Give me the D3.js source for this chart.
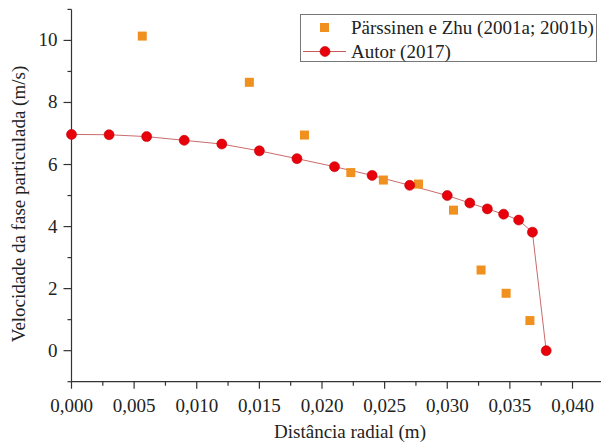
<!DOCTYPE html>
<html>
<head>
<meta charset="utf-8">
<script src="https://cdn.jsdelivr.net/npm/d3@7"></script>
<style>
  body { margin: 0; background: #fff; }
</style>
</head>
<body>
<div id="chart"></div>
<script>
const width = 601
const height = 445

// Pärssinen e Zhu (2001a; 2001b)
const refX = [0.00565, 0.0142, 0.0186, 0.0223, 0.0249, 0.0277, 0.0305, 0.0327, 0.0347, 0.0366]
const refY = [10.14, 8.65, 6.95, 5.74, 5.5, 5.37, 4.53, 2.6, 1.85, 0.97]

// Autor (2017)
const autorX = [0, 0.003, 0.006, 0.009, 0.012, 0.015, 0.018, 0.021, 0.024, 0.027, 0.03,
  0.0318, 0.0332, 0.0345, 0.0357, 0.0368, 0.0379]
const autorY = [6.97, 6.96, 6.9, 6.78, 6.66, 6.44, 6.19, 5.93, 5.65, 5.33, 5.0,
  4.76, 4.57, 4.4, 4.21, 3.82, 0]

const xTicks = [0, 0.005, 0.01, 0.015, 0.02, 0.025, 0.03, 0.035, 0.04]
const yTicks = [0, 2, 4, 6, 8, 10]

const svg = d3
  .select('#chart')
  .append('svg')
  .attr('width', width)
  .attr('height', height)
  .attr('font-family', '"Liberation Serif", "Times New Roman", serif')
  .style('display', 'block')

// x: 0 -> 71.5px, 0.040 -> 572.5px
const x = d3.scaleLinear().domain([0, 0.04]).range([71.5, 572.5])
const y = d3.scaleLinear().domain([-1, 11]).range([381.7, 9.4])

const fmt = d => d3.format('.3f')(d).replace('.', ',')

// minor ticks
const xMinor = d3.range(0.0025, 0.043, 0.005)
const yMinor = d3.range(-1, 11.01, 2)

const axisColor = '#333'

// x axis
const xAxis = svg.append('g').attr('transform', `translate(0,${y(-1)})`)
xAxis.append('line')
  .attr('x1', x(0)).attr('x2', 601)
  .attr('stroke', axisColor).attr('stroke-width', 1.2)
xAxis.selectAll('.maj').data(xTicks).enter().append('line')
  .attr('x1', d => x(d)).attr('x2', d => x(d))
  .attr('y1', 0).attr('y2', 7)
  .attr('stroke', axisColor).attr('stroke-width', 1.2)
xAxis.selectAll('.min').data(xMinor).enter().append('line')
  .attr('x1', d => x(d)).attr('x2', d => x(d))
  .attr('y1', 0).attr('y2', 4)
  .attr('stroke', axisColor).attr('stroke-width', 1.2)
xAxis.selectAll('text').data(xTicks).enter().append('text')
  .attr('x', d => x(d)).attr('y', 30)
  .attr('text-anchor', 'middle')
  .attr('font-size', 19)
  .attr('fill', '#222')
  .text(fmt)

// y axis
const yAxis = svg.append('g').attr('transform', `translate(${x(0)},0)`)
yAxis.append('line')
  .attr('y1', y(-1)).attr('y2', y(11))
  .attr('stroke', axisColor).attr('stroke-width', 1.2)
yAxis.selectAll('.maj').data(yTicks).enter().append('line')
  .attr('y1', d => y(d)).attr('y2', d => y(d))
  .attr('x1', 0).attr('x2', -8)
  .attr('stroke', axisColor).attr('stroke-width', 1.2)
yAxis.selectAll('.min').data(yMinor).enter().append('line')
  .attr('y1', d => y(d)).attr('y2', d => y(d))
  .attr('x1', 0).attr('x2', -4)
  .attr('stroke', axisColor).attr('stroke-width', 1.2)
yAxis.selectAll('text').data(yTicks).enter().append('text')
  .attr('x', -14).attr('y', d => y(d) + 6)
  .attr('text-anchor', 'end')
  .attr('font-size', 19)
  .attr('fill', '#222')
  .text(d => d)

// axis titles
svg.append('text')
  .attr('x', 350).attr('y', 438)
  .attr('text-anchor', 'middle')
  .attr('font-size', 19)
  .attr('fill', '#222')
  .text('Distância radial (m)')

svg.append('text')
  .attr('transform', 'translate(25,204) rotate(-90)')
  .attr('text-anchor', 'middle')
  .attr('font-size', 19)
  .attr('fill', '#222')
  .text('Velocidade da fase particulada (m/s)')

// Autor line + points
const autor = autorX.map((d, i) => ({ x: d, y: autorY[i] }))
const ref = refX.map((d, i) => ({ x: d, y: refY[i] }))

const line = d3.line().x(d => x(d.x)).y(d => y(d.y))

svg.append('path')
  .datum(autor)
  .attr('d', line)
  .attr('fill', 'none')
  .attr('stroke', '#c45a5a')
  .attr('stroke-width', 0.9)

// squares
const sq = 9
svg.selectAll('.sq').data(ref).enter().append('rect')
  .attr('x', d => x(d.x) - sq / 2)
  .attr('y', d => y(d.y) - sq / 2)
  .attr('width', sq).attr('height', sq)
  .attr('fill', '#f0901e')

svg.selectAll('.pt').data(autor).enter().append('circle')
  .attr('cx', d => x(d.x))
  .attr('cy', d => y(d.y))
  .attr('r', 5)
  .attr('fill', '#e8000b')
  .attr('stroke', '#c00008')
  .attr('stroke-width', 0.6)

// legend
const lg = svg.append('g')
lg.append('rect')
  .attr('x', 300.5).attr('y', 14.5)
  .attr('width', 296).attr('height', 47)
  .attr('fill', '#fff')
  .attr('stroke', '#777').attr('stroke-width', 1)
lg.append('rect')
  .attr('x', 324.5 - sq / 2).attr('y', 27.5 - sq / 2)
  .attr('width', sq).attr('height', sq)
  .attr('fill', '#f0901e')
lg.append('text')
  .attr('x', 351).attr('y', 34)
  .attr('font-size', 19).attr('fill', '#222')
  .text('Pärssinen e Zhu (2001a; 2001b)')
lg.append('line')
  .attr('x1', 303).attr('x2', 346).attr('y1', 51.5).attr('y2', 51.5)
  .attr('stroke', '#c45a5a').attr('stroke-width', 1)
lg.append('circle')
  .attr('cx', 325).attr('cy', 51.5).attr('r', 5)
  .attr('fill', '#e8000b')
  .attr('stroke', '#c00008').attr('stroke-width', 0.6)
lg.append('text')
  .attr('x', 351).attr('y', 58)
  .attr('font-size', 19).attr('fill', '#222')
  .text('Autor (2017)')
</script>
</body>
</html>
